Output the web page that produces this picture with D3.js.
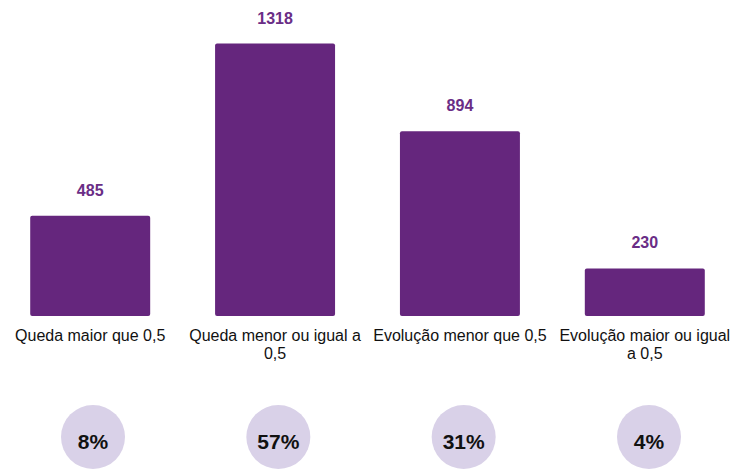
<!DOCTYPE html>
<html>
<head>
<meta charset="utf-8">
<script src="https://cdn.jsdelivr.net/npm/d3@7"></script>
<style>
	body { margin: 0; background: #fff; }
	svg { display: block; font-family: "Liberation Sans", Arial, sans-serif; }
</style>
</head>
<body>
<div id="vis"></div>
<script>
var width = 732,
	height = 469;

var categories = ["Queda maior que 0,5", "Queda menor ou igual a 0,5", "Evolução menor que 0,5", "Evolução maior ou igual a 0,5"];
var counts = [485, 1318, 894, 230];
var shares = ["8%", "57%", "31%", "4%"];

var data = categories.map(function(c, i) {
	return {name: c, value: counts[i], share: shares[i]};
});

var svg = d3.select('#vis')
	.append('svg')
	.attr('width', width)
	.attr('height', height);

var x = d3.scaleBand()
	.domain(categories)
	.range([1, width + 2])
	.paddingInner(0.351)
	.paddingOuter(0.158);

var y = d3.scaleLinear()
	.domain([0, d3.max(counts)])
	.range([316, 43.5]);

// circles sit on their own, slightly wider spacing
var xc = d3.scalePoint()
	.domain(categories)
	.range([93, 649]);

svg.selectAll('rect.bar')
	.data(data)
	.enter()
	.append('rect')
	.attr('class', 'bar')
	.attr('x', function(d) { return x(d.name); })
	.attr('y', function(d) { return y(d.value); })
	.attr('width', x.bandwidth())
	.attr('height', function(d) { return y(0) - y(d.value); })
	.attr('rx', 2)
	.style('fill', '#65267d');

svg.selectAll('text.value')
	.data(data)
	.enter()
	.append('text')
	.attr('class', 'value')
	.attr('x', function(d) { return x(d.name) + x.bandwidth() / 2; })
	.attr('y', function(d) { return y(d.value) - 20; })
	.attr('text-anchor', 'middle')
	.style('font-size', '16px')
	.style('font-weight', 'bold')
	.style('fill', '#6a2d86')
	.text(function(d) { return d.value; });

// category labels, wrapped to the band step
var labels = svg.selectAll('text.cat')
	.data(data)
	.enter()
	.append('text')
	.attr('class', 'cat')
	.attr('x', function(d) { return x(d.name) + x.bandwidth() / 2; })
	.attr('y', 341)
	.attr('text-anchor', 'middle')
	.style('font-size', '16px')
	.style('fill', '#111')
	.text(function(d) { return d.name; });

labels.each(function() {
	var text = d3.select(this),
		words = text.text().split(/\s+/),
		cx = text.attr('x'),
		line = [],
		tspan = text.text(null).append('tspan').attr('x', cx).attr('dy', 0);
	words.forEach(function(w) {
		line.push(w);
		tspan.text(line.join(' '));
		if (tspan.node().getComputedTextLength() > 180 && line.length > 1) {
			line.pop();
			tspan.text(line.join(' '));
			line = [w];
			tspan = text.append('tspan').attr('x', cx).attr('dy', 18).text(w);
		}
	});
});

svg.selectAll('circle.share')
	.data(data)
	.enter()
	.append('circle')
	.attr('class', 'share')
	.attr('cx', function(d) { return xc(d.name); })
	.attr('cy', 437)
	.attr('r', 32)
	.style('fill', '#d9d1e8');

svg.selectAll('text.share')
	.data(data)
	.enter()
	.append('text')
	.attr('class', 'share')
	.attr('x', function(d) { return xc(d.name); })
	.attr('y', 449)
	.attr('text-anchor', 'middle')
	.style('font-size', '21px')
	.style('font-weight', 'bold')
	.style('fill', '#111')
	.text(function(d) { return d.share; });
</script>
</body>
</html>
